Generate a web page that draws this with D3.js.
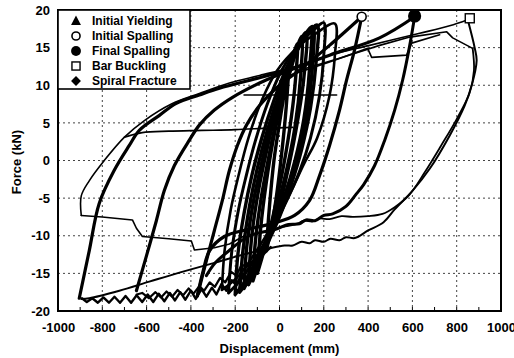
<!DOCTYPE html>
<html>
<head>
<meta charset="utf-8">
<script src="https://cdn.jsdelivr.net/npm/d3@7"></script>
<style>
    body { margin: 0; background: #fff; }
    text { font-family: Arial, "Liberation Sans", sans-serif; font-weight: bold; fill: #000; }
</style>
</head>
<body>
<div id="chart"></div>
<script>
// axis ticks
var xTickValues = [-1000, -800, -600, -400, -200, 0, 200, 400, 600, 800, 1000];
var yTickValues = [-20, -15, -10, -5, 0, 5, 10, 15, 20];
var xMinorTicks = [-900, -700, -500, -300, -100, 100, 300, 500, 700, 900];

// legend
var legendLabels = ["Initial Yielding", "Initial Spalling", "Final Spalling", "Bar Buckling", "Spiral Fracture"];
var legendSymbols = ["triangle", "circleOpen", "circleFilled", "squareOpen", "diamond"];

// damage markers [displacement mm, force kN]
var yieldingPts = [[40, 12.5]];
var initSpallPts = [[371, 19.1]];
var finalSpallPts = [[610, 19.2]];
var bucklingPts = [[859, 18.9]];

// hysteresis branches [mm, kN]
var cyc900Up = [[-904, -18.3], [-859, -12], [-814, -5.7], [-746, -1.3], [-678, 2], [-633, 4], [-542, 6],
    [-466, 7.6], [-362, 8.7], [-271, 9.6], [-90, 11], [68, 12.3]];
var cyc860Up = [[-895, -7.3], [-895, -4.7], [-859, -2.7], [-791, 0], [-700, 3.1], [-610, 5.3], [-488, 7.5],
    [-362, 8.9], [-226, 10.3], [-90, 11.3], [59, 12.4], [226, 14], [407, 15.3], [633, 16.9], [768, 17.9], [850, 18.7]];
var cyc860Down = [[850, 18.7], [881, 15], [890, 13.3], [868, 10], [836, 7.3], [768, 3.3], [678, -1.1], [601, -4],
    [520, -6.5], [470, -8.2], [400, -9.3], [340, -10.3], [300, -10.2], [271, -10.6], [230, -10.4], [200, -10.8],
    [160, -10.6], [136, -11], [100, -10.8], [60, -11.3], [23, -11.3], [-136, -12.3], [-294, -13.6], [-452, -14.9],
    [-588, -16.1], [-723, -17.3], [-859, -18.3], [-895, -18.4]];
var cyc860Down2 = [[872, 14.9], [878, 12], [858, 9], [800, 5.5], [730, 2], [655, -1.6], [585, -4.6], [520, -6.2],
    [465, -7.1], [400, -7.4], [330, -7.5], [280, -7.4], [226, -7.8], [180, -7.7], [150, -8.1], [110, -8],
    [80, -8.4], [20, -8.8]];
var topBranch = [[90, 12], [271, 13.6], [452, 15.3], [588, 16.4], [755, 17.1], [782, 16.3], [872, 14.9]];
var topBox = [[45, 11.3], [226, 13.1], [398, 14.9], [416, 13.7], [574, 14], [597, 15.6], [723, 16.7]];
var flatBranch = [[-700, 3.1], [-620, 3.7], [-500, 3.9], [-350, 4], [-200, 4.1], [-50, 4.3], [60, 4.4]];
var holdLine = [[-160, 8.7], [258, 8.7]];
var postFracture = [[-895, -7.3], [-800, -7.5], [-664, -7.9], [-646, -9], [-619, -10.1], [-500, -10.4],
    [-398, -10.7], [-384, -11.9], [-294, -11.6], [-226, -11.1], [-158, -10]];
var cyc600Up = [[-646, -17.3], [-601, -12.7], [-556, -8], [-520, -4], [-475, -0.7], [-407, 2.7], [-362, 4.7],
    [-294, 6.7], [-212, 8.4], [-90, 10.3], [45, 12], [226, 14], [452, 16.3], [610, 19.1]];
var cyc600Down = [[610, 19.1], [588, 15.3], [556, 10.7], [520, 6.7], [475, 2.7], [429, -0.7], [380, -3.2],
    [348, -4.4], [300, -6.1], [240, -7.1], [200, -7.3], [160, -8], [120, -7.9], [90, -8.4], [40, -8.5],
    [-14, -9.1], [-136, -10], [-220, -11.8], [-290, -13.6], [-330, -15.3]];
var cyc400Up = [[-371, -18], [-330, -13.3], [-294, -9.3], [-258, -5.3], [-226, -1.3], [-190, 2], [-149, 4.7],
    [-90, 7.3], [0, 10], [90, 12], [226, 15.3], [371, 19.1]];
var cyc400Down = [[371, 19.1], [339, 14.7], [303, 10.7], [271, 6.7], [226, 2], [181, -2], [136, -5.3], [68, -7.3],
    [-23, -8.3], [-136, -9.1], [-249, -10.1], [-316, -12], [-345, -14.7], [-371, -18]];

// small cycles forming the dense core
var loopA = [[-60, -12], [-45, -6], [-25, 0], [0, 5], [25, 9.5], [40, 12], [30, 7], [10, 1], [-15, -5],
    [-40, -9.5], [-60, -12]];
var loopB = [[-100, -15], [-85, -9], [-60, -3], [-30, 2.5], [10, 8], [50, 12.5], [80, 15.5], [70, 10], [45, 4],
    [10, -2], [-30, -7.5], [-70, -12], [-100, -15]];
var loopI = [[-120, -16], [-108, -10.5], [-80, -4.5], [-45, 1], [-5, 6.5], [45, 11.5], [100, 16.5], [95, 11],
    [70, 4.5], [30, -1.5], [-15, -6.5], [-70, -11.5], [-120, -16]];
var loopC = [[-140, -16.5], [-125, -10], [-95, -4], [-60, 1], [-20, 6], [30, 11], [80, 15], [120, 17], [110, 11],
    [80, 5], [40, -1], [0, -6], [-50, -10.5], [-100, -14], [-140, -16.5]];
var loopH = [[-160, -17], [-148, -11.5], [-118, -5.5], [-82, -0.5], [-40, 4.5], [10, 9.5], [70, 14], [140, 17.5],
    [135, 12], [110, 5.5], [70, 0], [25, -4.5], [-35, -9], [-100, -13.5], [-160, -17]];
var loopD = [[-180, -17.5], [-165, -12], [-135, -6], [-100, -1], [-55, 4], [0, 9], [60, 13.5], [120, 16.5],
    [170, 18], [165, 13], [140, 7], [100, 1.5], [55, -3], [0, -7.5], [-70, -12], [-130, -15.5], [-180, -17.5]];
var loopE = [[-200, -17.8], [-188, -12.5], [-160, -7], [-125, -2], [-80, 3], [-25, 8], [35, 12.5], [100, 16],
    [150, 17.8], [150, 13], [125, 6.5], [85, 1], [35, -4], [-25, -8.5], [-90, -12.5], [-150, -15.8], [-200, -17.8]];
var loopF = [[-230, -17.6], [-215, -12], [-185, -6.5], [-150, -2], [-110, 2.5], [-55, 7.5], [10, 12], [90, 15.5],
    [160, 17.5], [200, 18.3], [200, 14], [180, 8.5], [140, 3], [90, -1.5], [30, -5.5], [-40, -9.5], [-120, -13.5],
    [-180, -16], [-230, -17.6]];
var loopG = [[-260, -17.2], [-248, -12], [-220, -6.5], [-185, -2], [-140, 3], [-80, 8], [-10, 12], [80, 15],
    [170, 17], [250, 18.2], [250, 14], [225, 8.5], [170, 3], [110, -0.5], [45, -4.5], [-30, -8.5], [-115, -12.5],
    [-190, -15.5], [-260, -17.2]];

var wiggleA = [[-40, -11.5], [-90, -13], [-125, -14.3], [-150, -15.6], [-170, -15], [-195, -16.6], [-215, -15.9],
    [-240, -17.3], [-262, -16.4], [-285, -17.8], [-305, -16.9], [-330, -18.1], [-352, -17.1], [-378, -18.4],
    [-400, -17.3], [-425, -18.5], [-448, -17.5], [-472, -18.6], [-495, -17.6], [-520, -18.7], [-545, -17.7],
    [-570, -18.8], [-595, -17.8], [-620, -18.8], [-645, -17.9], [-670, -18.9], [-695, -18], [-720, -18.9],
    [-745, -18.1], [-770, -18.9], [-795, -18.2], [-820, -18.9], [-845, -18.3], [-870, -18.8], [-892, -18.3]];
var wiggleB = [[-120, -13.3], [-150, -14.2], [-170, -13.8], [-195, -15.3], [-218, -14.8], [-245, -16.2],
    [-268, -15.6], [-292, -16.8], [-315, -16.2], [-340, -17.3], [-362, -16.7], [-388, -17.7], [-410, -17],
    [-435, -17.9], [-460, -17.2], [-485, -18.1], [-510, -17.4], [-535, -18.2], [-560, -17.5], [-590, -18.3],
    [-620, -17.6], [-645, -17.8]];

var branches = [
    { pts: cyc860Up, w: 1.6, smooth: true },
    { pts: cyc860Down, w: 2, smooth: true },
    { pts: cyc860Down2, w: 1.8, smooth: true },
    { pts: topBranch, w: 1.6, smooth: false },
    { pts: topBox, w: 1.6, smooth: false },
    { pts: flatBranch, w: 1.6, smooth: true },
    { pts: holdLine, w: 1.6, smooth: false },
    { pts: postFracture, w: 1.6, smooth: false },
    { pts: cyc900Up, w: 3.2, smooth: true },
    { pts: cyc600Up, w: 3.2, smooth: true },
    { pts: cyc600Down, w: 3, smooth: true },
    { pts: cyc400Up, w: 3.2, smooth: true },
    { pts: cyc400Down, w: 3.2, smooth: true },
    { pts: loopA, w: 3.4, smooth: true },
    { pts: loopB, w: 3.4, smooth: true },
    { pts: loopI, w: 3.4, smooth: true },
    { pts: loopC, w: 3.4, smooth: true },
    { pts: loopH, w: 3.4, smooth: true },
    { pts: loopD, w: 3.4, smooth: true },
    { pts: loopE, w: 3.4, smooth: true },
    { pts: loopF, w: 3, smooth: true },
    { pts: loopG, w: 2.6, smooth: true },
    { pts: wiggleA, w: 2.4, smooth: false },
    { pts: wiggleB, w: 2.2, smooth: false }
];

var width = 514, height = 358;
var plotLeft = 58, plotRight = 501, plotTop = 10, plotBottom = 311;

var svg = d3.select("#chart")
    .append("svg")
    .attr("width", width)
    .attr("height", height);

var x = d3.scaleLinear().domain([-1000, 1000]).range([plotLeft, plotRight]);
var y = d3.scaleLinear().domain([-20, 20]).range([plotBottom, plotTop]);

// dotted grid
svg.append("g").selectAll("line")
    .data(xTickValues.slice(1, -1))
    .enter().append("line")
    .attr("x1", d => x(d)).attr("x2", d => x(d))
    .attr("y1", plotTop).attr("y2", plotBottom)
    .style("stroke", "#444")
    .style("stroke-width", "1px")
    .style("stroke-dasharray", "2,3");

svg.append("g").selectAll("line")
    .data(yTickValues.slice(1, -1))
    .enter().append("line")
    .attr("x1", plotLeft).attr("x2", plotRight)
    .attr("y1", d => y(d)).attr("y2", d => y(d))
    .style("stroke", "#444")
    .style("stroke-width", "1px")
    .style("stroke-dasharray", "2,3");

// minor ticks on bottom
svg.append("g").selectAll("line")
    .data(xMinorTicks.concat(xTickValues))
    .enter().append("line")
    .attr("x1", d => x(d)).attr("x2", d => x(d))
    .attr("y1", plotBottom).attr("y2", plotBottom - 4)
    .style("stroke", "#000")
    .style("stroke-width", "1px");

// curves
var smoothLine = d3.line().x(d => x(d[0])).y(d => y(d[1])).curve(d3.curveCatmullRom.alpha(0.5));
var plainLine = d3.line().x(d => x(d[0])).y(d => y(d[1]));

var plot = svg.append("g");

branches.forEach(b => {
    plot.append("path")
        .attr("d", (b.smooth ? smoothLine : plainLine)(b.pts))
        .style("fill", "none")
        .style("stroke", "#000")
        .style("stroke-width", b.w + "px")
        .style("stroke-linejoin", "round")
        .style("stroke-linecap", "round");
});

// markers
function drawSymbol(g, type, cx, cy, s) {
    if (type == "triangle") {
        g.append("path")
            .attr("d", "M" + cx + "," + (cy - s * 0.6) + "L" + (cx + s * 0.55) + "," + (cy + s * 0.45) +
                "L" + (cx - s * 0.55) + "," + (cy + s * 0.45) + "Z")
            .style("fill", "#000");
    } else if (type == "circleOpen") {
        g.append("circle").attr("cx", cx).attr("cy", cy).attr("r", s * 0.45)
            .style("fill", "#fff").style("stroke", "#000").style("stroke-width", "1.6px");
    } else if (type == "circleFilled") {
        g.append("circle").attr("cx", cx).attr("cy", cy).attr("r", s * 0.55)
            .style("fill", "#000");
    } else if (type == "squareOpen") {
        g.append("rect").attr("x", cx - s * 0.45).attr("y", cy - s * 0.45)
            .attr("width", s * 0.9).attr("height", s * 0.9)
            .style("fill", "#fff").style("stroke", "#000").style("stroke-width", "1.4px");
    } else if (type == "diamond") {
        g.append("path")
            .attr("d", "M" + cx + "," + (cy - s * 0.55) + "L" + (cx + s * 0.55) + "," + cy +
                "L" + cx + "," + (cy + s * 0.55) + "L" + (cx - s * 0.55) + "," + cy + "Z")
            .style("fill", "#000");
    }
}

var markerSets = [
    { pts: yieldingPts, type: "triangle", s: 9 },
    { pts: initSpallPts, type: "circleOpen", s: 10 },
    { pts: finalSpallPts, type: "circleFilled", s: 12 },
    { pts: bucklingPts, type: "squareOpen", s: 10 }
];

var markers = svg.append("g");
markerSets.forEach(m => {
    m.pts.forEach(p => drawSymbol(markers, m.type, x(p[0]), y(p[1]), m.s));
});

// frame
svg.append("rect")
    .attr("x", plotLeft).attr("y", plotTop)
    .attr("width", plotRight - plotLeft).attr("height", plotBottom - plotTop)
    .style("fill", "none")
    .style("stroke", "#000")
    .style("stroke-width", "2px");

// axes labels
var xAxis = d3.axisBottom(x).tickValues(xTickValues).tickFormat(d => String(d)).tickSize(0).tickPadding(12);
var gx = svg.append("g")
    .attr("transform", "translate(0," + plotBottom + ")")
    .call(xAxis);
gx.select(".domain").remove();
gx.selectAll(".tick text")
    .style("font-size", "13px")
    .style("font-family", "Arial, 'Liberation Sans', sans-serif")
    .style("font-weight", "bold")
    .style("fill", "#000");

var yAxis = d3.axisLeft(y).tickValues(yTickValues).tickFormat(d => String(d)).tickSize(0).tickPadding(8);
var gy = svg.append("g")
    .attr("transform", "translate(" + plotLeft + ",0)")
    .call(yAxis);
gy.select(".domain").remove();
gy.selectAll(".tick text")
    .style("font-size", "13px")
    .style("font-family", "Arial, 'Liberation Sans', sans-serif")
    .style("font-weight", "bold")
    .style("fill", "#000");

svg.append("text")
    .attr("x", (plotLeft + plotRight) / 2)
    .attr("y", 353)
    .attr("text-anchor", "middle")
    .style("font-size", "13px")
    .text("Displacement (mm)");

svg.append("text")
    .attr("transform", "translate(21,162) rotate(-90)")
    .attr("text-anchor", "middle")
    .style("font-size", "13px")
    .text("Force (kN)");

// legend
var legend = svg.append("g");
legend.append("rect")
    .attr("x", plotLeft).attr("y", plotTop)
    .attr("width", 132).attr("height", 79)
    .style("fill", "#fff")
    .style("stroke", "#000")
    .style("stroke-width", "1.6px");

legendLabels.forEach((label, i) => {
    var cy = 21 + i * 15;
    drawSymbol(legend, legendSymbols[i], 76, cy, 9);
    legend.append("text")
        .attr("x", 92)
        .attr("y", cy)
        .attr("dy", "0.36em")
        .style("font-size", "12px")
        .text(label);
});
</script>
</body>
</html>
